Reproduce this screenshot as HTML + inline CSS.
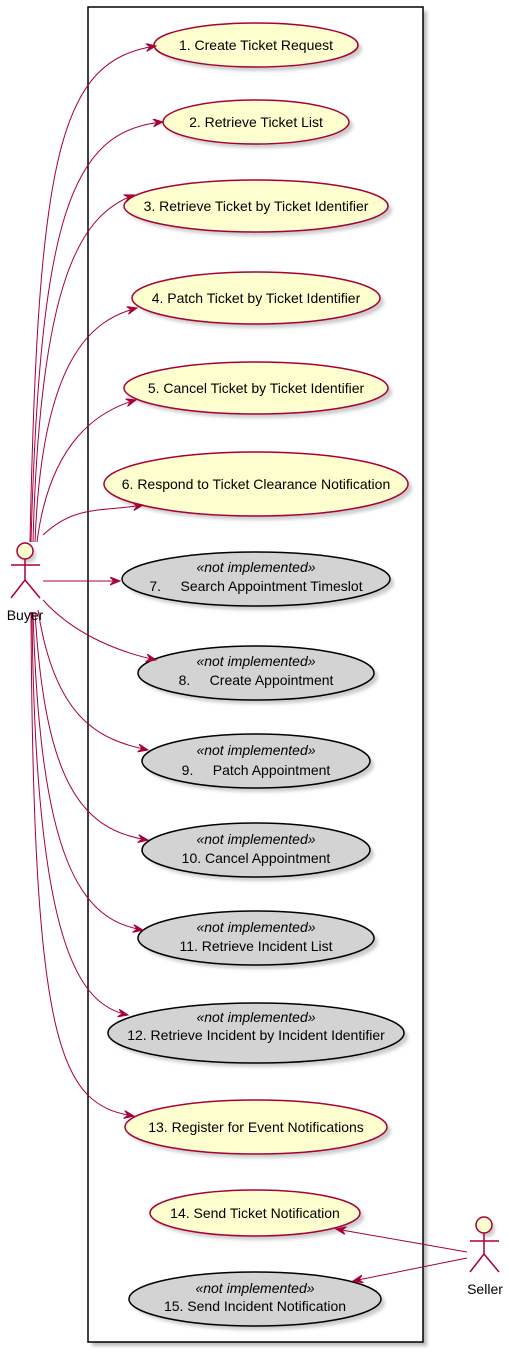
<!DOCTYPE html>
<html><head><meta charset="utf-8"><style>
html,body{margin:0;padding:0;background:#fff;}
svg{display:block;font-family:"Liberation Sans",sans-serif;}
</style></head><body>
<svg width="509" height="1355" viewBox="0 0 509 1355" xmlns="http://www.w3.org/2000/svg">
<defs>
<marker id="a" markerWidth="12" markerHeight="10" refX="10" refY="4" orient="auto" markerUnits="userSpaceOnUse">
<path d="M0,0 L10,4 L0,8 L4,4 Z" fill="#A80036" stroke="#A80036" stroke-width="1"/>
</marker>
<filter id="s" x="-10%" y="-10%" width="130%" height="140%"><feGaussianBlur stdDeviation="1.5"/></filter>
</defs>
<rect x="92" y="11" width="335" height="1335" fill="#bbb" filter="url(#s)"/>
<rect x="88" y="7" width="335" height="1335" fill="#fff" stroke="#000" stroke-width="1.5"/>

<g stroke-width="1.5">
<g fill="#ccc" stroke="none" filter="url(#s)">
<ellipse cx="260" cy="49" rx="102" ry="22"/>
<ellipse cx="260" cy="126" rx="93" ry="22"/>
<ellipse cx="260" cy="210" rx="132" ry="26"/>
<ellipse cx="260" cy="302" rx="124" ry="26"/>
<ellipse cx="260" cy="392" rx="132" ry="26"/>
<ellipse cx="260" cy="488" rx="152" ry="32"/>
<ellipse cx="260" cy="583" rx="134" ry="27"/>
<ellipse cx="260" cy="677" rx="118" ry="27"/>
<ellipse cx="260" cy="765" rx="114" ry="27"/>
<ellipse cx="260" cy="854" rx="114" ry="27"/>
<ellipse cx="260" cy="942" rx="118" ry="27"/>
<ellipse cx="260" cy="1037" rx="148" ry="30"/>
<ellipse cx="260" cy="1131" rx="131" ry="27"/>
<ellipse cx="259" cy="1217" rx="105" ry="23"/>
<ellipse cx="259" cy="1303" rx="126" ry="27"/>
<circle cx="28" cy="555" r="8"/><circle cx="487" cy="1229" r="8"/>
</g>
<g fill="#FEFECE" stroke="#A80036">
<ellipse cx="256" cy="45" rx="102" ry="22"/>
<ellipse cx="256" cy="122" rx="93" ry="22"/>
<ellipse cx="256" cy="206" rx="132" ry="26"/>
<ellipse cx="256" cy="298" rx="124" ry="26"/>
<ellipse cx="256" cy="388" rx="132" ry="26"/>
<ellipse cx="256" cy="484" rx="152" ry="32"/>
<ellipse cx="255" cy="1213" rx="105" ry="23"/>
</g>
<g fill="#D3D3D3" stroke="#000">
<ellipse cx="256" cy="579" rx="134" ry="27"/>
<ellipse cx="256" cy="673" rx="118" ry="27"/>
<ellipse cx="256" cy="761" rx="114" ry="27"/>
<ellipse cx="256" cy="850" rx="114" ry="27"/>
<ellipse cx="256" cy="938" rx="118" ry="27"/>
<ellipse cx="256" cy="1033" rx="148" ry="30"/>
<ellipse cx="255" cy="1299" rx="126" ry="27"/>
</g>
<ellipse cx="256" cy="1127" rx="131" ry="27" fill="#FEFECE" stroke="#A80036"/>
</g>

<g fill="none" stroke="#A80036" stroke-width="1">
<path d="M30,542 C38,150 60,60 156,46" marker-end="url(#a)"/>
<path d="M31,542 C40,220 70,130 163,122" marker-end="url(#a)"/>
<path d="M33,542 C40,280 80,215 134,195" marker-end="url(#a)"/>
<path d="M35,542 C42,360 90,320 137,308" marker-end="url(#a)"/>
<path d="M37,542 C50,440 100,410 136,400" marker-end="url(#a)"/>
<path d="M43,535 C75,505 100,512 143,505" marker-end="url(#a)"/>
<path d="M43,581 L120,581" marker-end="url(#a)"/>
<path d="M43,600 C70,630 110,650 156,660" marker-end="url(#a)"/>
<path d="M38,610 C55,720 100,740 148,750" marker-end="url(#a)"/>
<path d="M35,612 C45,780 80,830 148,840" marker-end="url(#a)"/>
<path d="M33,612 C40,860 80,920 143,930" marker-end="url(#a)"/>
<path d="M32,612 C35,950 80,1005 128,1015" marker-end="url(#a)"/>
<path d="M31,612 C33,1050 60,1105 134,1116" marker-end="url(#a)"/>
<path d="M467,1252 L336,1229" marker-end="url(#a)"/>
<path d="M467,1258 L353,1281" marker-end="url(#a)"/>
</g>

<g font-size="14" fill="#000" text-anchor="middle">
<text x="256" y="50">1. Create Ticket Request</text>
<text x="256" y="127">2. Retrieve Ticket List</text>
<text x="256" y="211">3. Retrieve Ticket by Ticket Identifier</text>
<text x="256" y="303">4. Patch Ticket by Ticket Identifier</text>
<text x="256" y="393">5. Cancel Ticket by Ticket Identifier</text>
<text x="256" y="489">6. Respond to Ticket Clearance Notification</text>
<g font-style="italic">
<text x="256" y="572">«not implemented»</text>
<text x="256" y="666">«not implemented»</text>
<text x="256" y="755">«not implemented»</text>
<text x="256" y="844">«not implemented»</text>
<text x="256" y="932">«not implemented»</text>
<text x="256" y="1022">«not implemented»</text>
<text x="255" y="1293">«not implemented»</text>
</g>
<text x="256" y="591" xml:space="preserve">7.     Search Appointment Timeslot</text>
<text x="256" y="685" xml:space="preserve">8.     Create Appointment</text>
<text x="256" y="775" xml:space="preserve">9.     Patch Appointment</text>
<text x="256" y="863">10. Cancel Appointment</text>
<text x="256" y="951">11. Retrieve Incident List</text>
<text x="256" y="1040">12. Retrieve Incident by Incident Identifier</text>
<text x="256" y="1132">13. Register for Event Notifications</text>
<text x="255" y="1218">14. Send Ticket Notification</text>
<text x="255" y="1311">15. Send Incident Notification</text>
<text x="25" y="620">Buyer</text>
<text x="485" y="1294">Seller</text>
</g>

<g stroke="#A80036" stroke-width="1.5" fill="none">
<circle cx="25" cy="551" r="8" fill="#FEFECE"/>
<path d="M25,559 V580 M11,565 H40 M25,580 L11,598 M25,580 L40,598"/>
<circle cx="484" cy="1225" r="8" fill="#FEFECE"/>
<path d="M484,1233 V1254 M470,1241 H499 M484,1254 L470,1272 M484,1254 L499,1272"/>
</g>
</svg>
</body></html>
